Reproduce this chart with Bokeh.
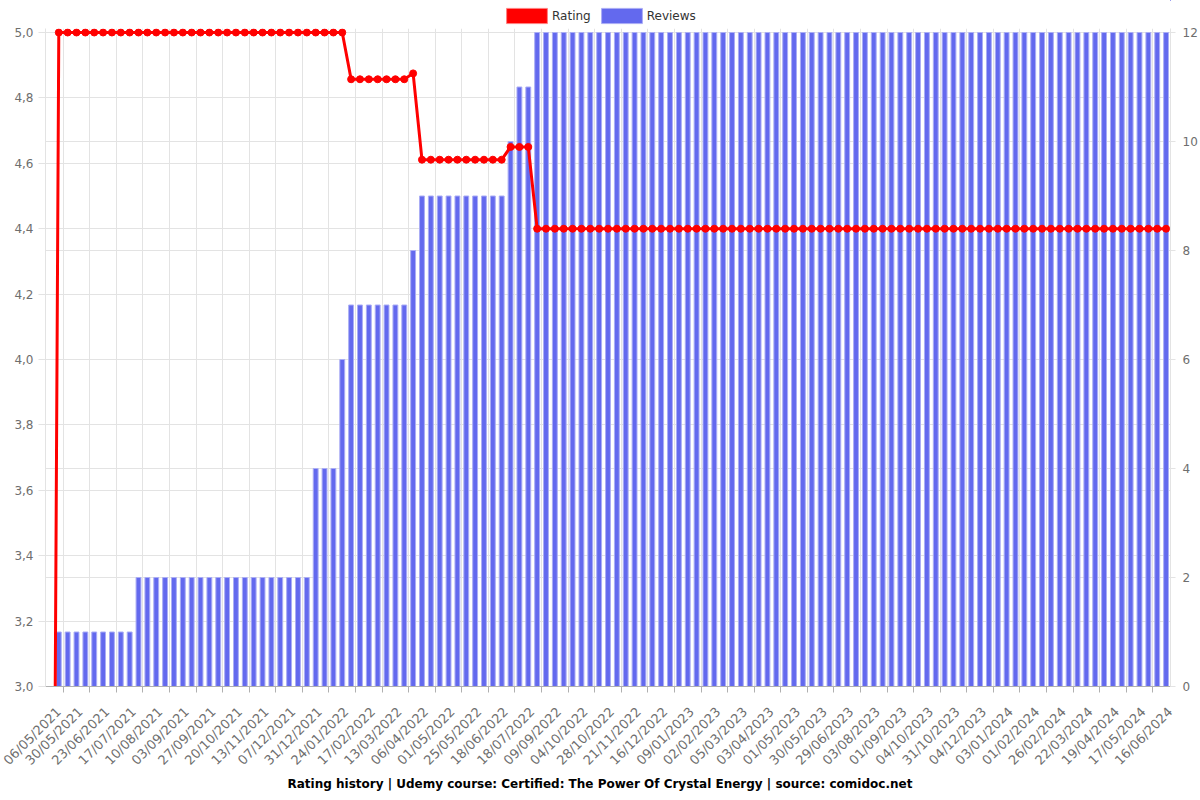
from math import pi
from bokeh.plotting import figure
from bokeh.layouts import column
from bokeh.models import (Range1d, LinearAxis, FixedTicker, CustomJSTickFormatter, Grid,
                          Legend, LegendItem, Title, ColumnDataSource)
from bokeh.embed import file_html
from bokeh.resources import INLINE

# ---------------- data ----------------
tick_labels = [
    "06/05/2021", "30/05/2021", "23/06/2021", "17/07/2021", "10/08/2021", "03/09/2021",
    "27/09/2021", "20/10/2021", "13/11/2021", "07/12/2021", "31/12/2021", "24/01/2022",
    "17/02/2022", "13/03/2022", "06/04/2022", "01/05/2022", "25/05/2022", "18/06/2022",
    "18/07/2022", "09/09/2022", "04/10/2022", "28/10/2022", "21/11/2022", "16/12/2022",
    "09/01/2023", "02/02/2023", "05/03/2023", "03/04/2023", "01/05/2023", "30/05/2023",
    "29/06/2023", "03/08/2023", "01/09/2023", "04/10/2023", "31/10/2023", "04/12/2023",
    "03/01/2024", "01/02/2024", "26/02/2024", "22/03/2024", "19/04/2024", "17/05/2024",
    "16/06/2024",
]

# number of reviews per observation (127 observations)
reviews = [
    0, 1, 1, 1, 1, 1, 1, 1, 1, 1,
    2, 2, 2, 2, 2, 2, 2, 2, 2, 2,
    2, 2, 2, 2, 2, 2, 2, 2, 2, 2,
    4, 4, 4, 6, 7, 7, 7, 7, 7, 7,
    7, 8, 9, 9, 9, 9, 9, 9, 9, 9,
    9, 9, 10, 11, 11, 12, 12, 12, 12, 12,
    12, 12, 12, 12, 12, 12, 12, 12, 12, 12,
    12, 12, 12, 12, 12, 12, 12, 12, 12, 12,
    12, 12, 12, 12, 12, 12, 12, 12, 12, 12,
    12, 12, 12, 12, 12, 12, 12, 12, 12, 12,
    12, 12, 12, 12, 12, 12, 12, 12, 12, 12,
    12, 12, 12, 12, 12, 12, 12, 12, 12, 12,
    12, 12, 12, 12, 12, 12, 12,
]

# average rating per observation
rating = [
    0.0, 5.0, 5.0, 5.0, 5.0, 5.0, 5.0, 5.0, 5.0, 5.0,
    5.0, 5.0, 5.0, 5.0, 5.0, 5.0, 5.0, 5.0, 5.0, 5.0,
    5.0, 5.0, 5.0, 5.0, 5.0, 5.0, 5.0, 5.0, 5.0, 5.0,
    5.0, 5.0, 5.0, 5.0, 4.857, 4.857, 4.857, 4.857, 4.857, 4.857,
    4.857, 4.875, 4.611, 4.611, 4.611, 4.611, 4.611, 4.611, 4.611, 4.611,
    4.611, 4.611, 4.65, 4.65, 4.65, 4.4, 4.4, 4.4, 4.4, 4.4,
    4.4, 4.4, 4.4, 4.4, 4.4, 4.4, 4.4, 4.4, 4.4, 4.4,
    4.4, 4.4, 4.4, 4.4, 4.4, 4.4, 4.4, 4.4, 4.4, 4.4,
    4.4, 4.4, 4.4, 4.4, 4.4, 4.4, 4.4, 4.4, 4.4, 4.4,
    4.4, 4.4, 4.4, 4.4, 4.4, 4.4, 4.4, 4.4, 4.4, 4.4,
    4.4, 4.4, 4.4, 4.4, 4.4, 4.4, 4.4, 4.4, 4.4, 4.4,
    4.4, 4.4, 4.4, 4.4, 4.4, 4.4, 4.4, 4.4, 4.4, 4.4,
    4.4, 4.4, 4.4, 4.4, 4.4, 4.4, 4.4,
]

rating_min, rating_max = 3.0, 5.0
reviews_min, reviews_max = 0, 12
rating_ticks = [3.0, 3.2, 3.4, 3.6, 3.8, 4.0, 4.2, 4.4, 4.6, 4.8, 5.0]
review_ticks = [0, 2, 4, 6, 8, 10, 12]

title_text = ("Rating history | Udemy course: Certified: The Power Of Crystal Energy | "
              "source: comidoc.net")

# ---------------- layout helpers ----------------
n = len(reviews)
xs = list(range(n))
label_step = 3
label_shift = 0.45
label_pos = [i * label_step + label_shift for i in range(len(tick_labels))]
boundary_pos = [i * label_step + 1.5 for i in range(len(tick_labels) - 1)]

# the plotting area reaches a few pixels above the top value so that
# the line and the markers at the maximum are not cut by the frame
PLOT_PX = 654           # pixel height between min and max values
HEADROOM_PX = 4
rating_end = rating_max + (rating_max - rating_min) * HEADROOM_PX / PLOT_PX
reviews_end = reviews_max + (reviews_max - reviews_min) * HEADROOM_PX / PLOT_PX

src = ColumnDataSource(dict(x=xs, reviews=reviews, rating=rating))

FONT = "DejaVu Sans"
GRID = "#e3e3e3"
LABEL = "#6e6e6e"
RED = "#ff0000"
BLUE = "#6369ee"
BLUE_EDGE = "#aaadf5"

# ---------------- legend strip (top) ----------------
lf = figure(width=1200, height=26, output_backend="svg", toolbar_location=None,
            x_range=Range1d(-1000, -999), y_range=Range1d(-1000, -999),
            x_axis_location=None, y_axis_location=None,
            min_border=0, min_border_left=0, min_border_right=0,
            min_border_top=0, min_border_bottom=0)
lf.outline_line_color = None
for g in lf.grid:
    g.visible = False
proxy_rating = lf.vbar(x="x", top="rating", width=0.5, source=src,
                       fill_color=RED, line_color="#ff8080", line_width=1)
proxy_reviews = lf.vbar(x="x", top="reviews", width=0.5, source=src,
                        fill_color=BLUE, line_color=BLUE_EDGE, line_width=1)
legend = Legend(items=[LegendItem(label="Rating", renderers=[proxy_rating]),
                       LegendItem(label="Reviews", renderers=[proxy_reviews])],
                orientation="horizontal", location=(456, 1),
                glyph_width=51, glyph_height=19, label_standoff=0, spacing=5,
                padding=0, margin=0, border_line_color=None, background_fill_alpha=0,
                label_text_font=FONT, label_text_font_size="12px", label_text_color="#333333")
lf.add_layout(legend, "center")

# ---------------- main chart ----------------
p = figure(width=1200, height=774, output_backend="svg", toolbar_location=None,
           x_range=Range1d(-0.5, n - 0.5), y_range=Range1d(rating_min, rating_end),
           x_axis_location=None, y_axis_location=None,
           min_border_left=45, min_border_right=30, min_border_top=2, min_border_bottom=114)
p.extra_y_ranges = {"rev": Range1d(reviews_min, reviews_end)}
p.outline_line_color = None
p.background_fill_color = "white"
p.border_fill_color = "white"
for g in p.grid:
    g.visible = False

# grids
p.add_layout(Grid(dimension=0, ticker=FixedTicker(ticks=boundary_pos),
                  grid_line_color=GRID, grid_line_width=1))
p.add_layout(Grid(dimension=1, ticker=FixedTicker(ticks=rating_ticks),
                  grid_line_color=GRID, grid_line_width=1))
p.add_layout(Grid(dimension=1, ticker=FixedTicker(ticks=review_ticks), y_range_name="rev",
                  grid_line_color=GRID, grid_line_width=1))

# left axis (rating)
yl = LinearAxis(ticker=FixedTicker(ticks=rating_ticks),
                formatter=CustomJSTickFormatter(code="return tick.toFixed(1).replace('.', ',');"))
yl.axis_line_color = GRID
yl.major_tick_line_color = GRID
yl.major_tick_out = 7
yl.major_tick_in = 0
yl.minor_tick_line_color = None
yl.major_label_standoff = 5
yl.major_label_text_font = FONT
yl.major_label_text_font_size = "12px"
yl.major_label_text_color = LABEL
p.add_layout(yl, "left")

# right axis (reviews)
yr = LinearAxis(y_range_name="rev", ticker=FixedTicker(ticks=review_ticks))
yr.axis_line_color = GRID
yr.major_tick_line_color = GRID
yr.major_tick_out = 5
yr.major_tick_in = 0
yr.minor_tick_line_color = None
yr.major_label_standoff = 7
yr.major_label_text_font = FONT
yr.major_label_text_font_size = "12px"
yr.major_label_text_color = LABEL
p.add_layout(yr, "right")

# bottom axis (dates)
xa = LinearAxis(ticker=FixedTicker(ticks=label_pos, minor_ticks=boundary_pos),
                formatter=CustomJSTickFormatter(
                    args=dict(labels=tick_labels, step=label_step, shift=label_shift),
                    code="const i = Math.round((tick - shift) / step); return labels[i] || '';"))
xa.axis_line_color = "#b0b0b0"
xa.major_tick_out = 0
xa.major_tick_in = 0
xa.minor_tick_out = 6
xa.minor_tick_in = 0
xa.minor_tick_line_color = "#b0b0b0"
xa.major_label_orientation = pi / 4
xa.major_label_standoff = 17
xa.major_label_text_font = FONT
xa.major_label_text_font_size = "13px"
xa.major_label_text_color = LABEL
p.add_layout(xa, "below")

# glyphs
p.vbar(x="x", top="reviews", bottom=0, width=0.55, source=src, y_range_name="rev",
       fill_color=BLUE, line_color=BLUE_EDGE, line_width=1)
p.line(x="x", y="rating", source=src, line_color=RED, line_width=3)
p.scatter(x="x", y="rating", source=src, size=7, fill_color=RED, line_color=RED)

p.add_layout(Title(text=title_text, align="left", offset=242, text_font=FONT,
                   text_font_size="12px", text_font_style="bold", text_color="#000000",
                   standoff=-3), "below")

layout = column(lf, p, spacing=0)
open("out.html", "w").write(file_html(layout, INLINE))
